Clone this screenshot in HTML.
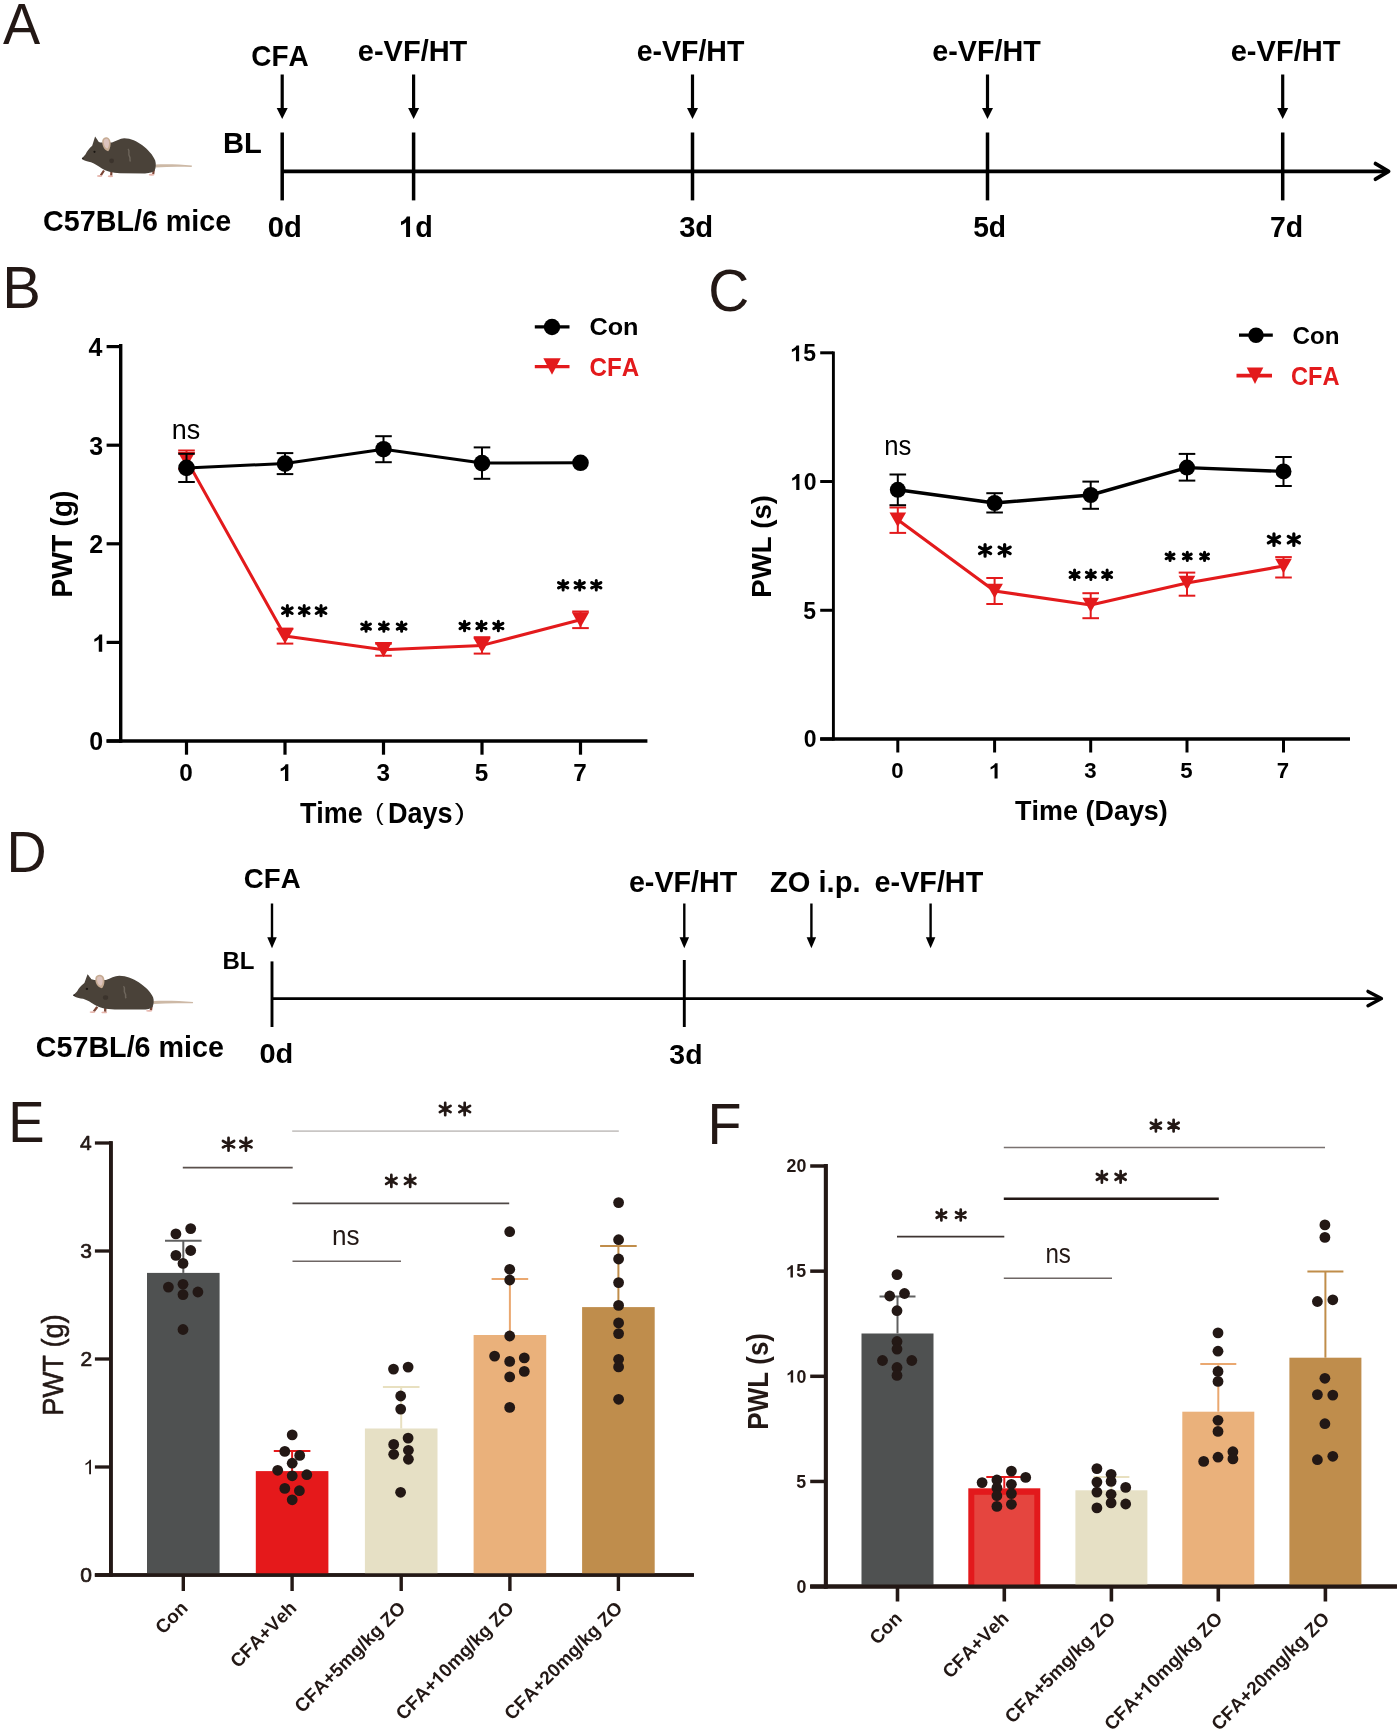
<!DOCTYPE html>
<html><head><meta charset="utf-8"><title>Figure</title>
<style>
html,body{margin:0;padding:0;background:#fff;}
svg{display:block;will-change:transform;}
text{font-family:"Liberation Sans", sans-serif; font-kerning:none;}
</style></head>
<body>
<svg width="1400" height="1730" viewBox="0 0 1400 1730">
<rect width="1400" height="1730" fill="#fff"/>
<text x="2.89" y="43.50" font-size="58.00" font-weight="normal" textLength="37.22" lengthAdjust="spacingAndGlyphs" fill="#231815">A</text>
<g>
<g>
<path d="M155.4 164.5 C168 163.9 180 164.5 191.9 165.5 L191.7 166.9 C180 166.7 168 166.5 155.4 167.5 Z" fill="#cdb9a6"/>
<path d="M104 170.5 L100.8 175.4 M111.4 171.5 L111.2 175.8 M153.8 169.5 L153.2 174.2" stroke="#7a4535" stroke-width="2.2" fill="none"/>
<ellipse cx="99.6" cy="176" rx="2.7" ry="1" fill="#e6b5ac"/>
<ellipse cx="110.4" cy="176.3" rx="2.7" ry="1" fill="#e6b5ac"/>
<ellipse cx="151.6" cy="174.7" rx="2.9" ry="1" fill="#e6b5ac"/>
<path d="M82.2 158.7 C83 156.8 84.6 155.4 85.6 154.2 C87 151.5 89 148.5 92.2 145.8 L95.1 136.6 C96.6 138.5 97.6 140.3 98.6 141.8 C100 142.4 101 142.6 102 142.6 C106 143 109 142.6 112 142.6 C116 141 120 138.4 124.2 138.2 C131 138.2 137 141.5 142 145 C148 149.5 153 155 155.2 160.5 C156.2 164 156 168 154.6 170.6 C153 172.5 150 173.2 145 173.4 L120 173.2 C112 173 106 171.5 101.5 168.3 C98 166 95 163.6 91 162.2 C88 161.6 85.5 161 84 160.2 C83 159.8 82.4 159.3 82.2 158.7 Z" fill="#4a4239"/>
<path d="M102.2 141 C102.4 138.4 104.6 137 106.6 137.2 C109.4 137.6 110.8 140.4 110.6 144 C110.4 147.2 109.6 149.8 108.2 151.2 C106.4 151 104.6 149.6 103.6 147.6 C102.6 145.6 102.1 143.2 102.2 141 Z" fill="#c6ab93"/>
<path d="M103.8 141.2 C104 139.4 105.4 138.6 106.8 138.8 C108.6 139.2 109.2 141.4 109 144 C108.8 146.2 108.2 148 107.2 148.6 C105.8 148.2 104.6 146.6 104.2 145 C103.8 143.6 103.7 142.4 103.8 141.2 Z" fill="#dcc3bd"/>
<circle cx="94.5" cy="151.8" r="1.1" fill="#1a1612"/>
<circle cx="82.8" cy="158.4" r="0.9" fill="#2a231e"/>
<circle cx="111.6" cy="160.8" r="2.4" fill="#3b332c"/>
<path d="M128 149 C130.5 151 127.5 154 129.5 156.5 C131 158.5 129 160 130.5 161.5" stroke="#6e665c" stroke-width="1.4" fill="none"/>
</g></g>
<text x="43.07" y="231.30" font-size="30.00" font-weight="bold" textLength="188.16" lengthAdjust="spacingAndGlyphs" fill="#000">C57BL/6 mice</text>
<text x="223.05" y="153.00" font-size="29.00" font-weight="bold" textLength="38.85" lengthAdjust="spacingAndGlyphs" fill="#000">BL</text>
<text x="251.25" y="66.00" font-size="30.00" font-weight="bold" textLength="57.48" lengthAdjust="spacingAndGlyphs" fill="#000">CFA</text>
<text x="357.87" y="60.70" font-size="29.50" font-weight="bold" textLength="109.44" lengthAdjust="spacingAndGlyphs" fill="#000">e-VF/HT</text>
<text x="636.69" y="60.70" font-size="29.50" font-weight="bold" textLength="107.62" lengthAdjust="spacingAndGlyphs" fill="#000">e-VF/HT</text>
<text x="932.28" y="60.70" font-size="29.50" font-weight="bold" textLength="108.53" lengthAdjust="spacingAndGlyphs" fill="#000">e-VF/HT</text>
<text x="1230.66" y="60.70" font-size="29.50" font-weight="bold" textLength="109.85" lengthAdjust="spacingAndGlyphs" fill="#000">e-VF/HT</text>
<text x="267.84" y="236.90" font-size="29.60" font-weight="bold" textLength="34.08" lengthAdjust="spacingAndGlyphs" fill="#000">0d</text>
<g><path d="M762 0L481 0L481 1018C378 926 257 857 118 813L118 1058C191 1081 271 1125 357 1189C443 1253 502 1327 534 1409L762 1409Z" fill="#000" transform="translate(399.34 236.90) scale(0.01404 -0.01445)"/><text x="415.33" y="236.90" font-size="29.60" font-weight="bold" textLength="17.56" lengthAdjust="spacingAndGlyphs" fill="#000">d</text></g>
<text x="679.13" y="236.90" font-size="29.60" font-weight="bold" textLength="34.10" lengthAdjust="spacingAndGlyphs" fill="#000">3d</text>
<text x="973.13" y="236.90" font-size="29.60" font-weight="bold" textLength="32.93" lengthAdjust="spacingAndGlyphs" fill="#000">5d</text>
<text x="1269.98" y="236.90" font-size="29.60" font-weight="bold" textLength="33.20" lengthAdjust="spacingAndGlyphs" fill="#000">7d</text>
<line x1="282.20" y1="171.40" x2="1388.00" y2="171.40" stroke="#000" stroke-width="3.8" stroke-linecap="butt"/>
<path d="M1375.5 163.6 L1388.6 171.4 L1375.5 179.2" stroke="#000" stroke-width="3.8" fill="none" stroke-linecap="round" stroke-linejoin="round"/>
<line x1="282.20" y1="132.50" x2="282.20" y2="200.40" stroke="#000" stroke-width="3.5" stroke-linecap="butt"/>
<line x1="282.20" y1="74.50" x2="282.20" y2="109.00" stroke="#000" stroke-width="3.2" stroke-linecap="butt"/>
<path d="M276.70 108.00H287.70L282.20 119.00Z" fill="#000"/>
<line x1="413.60" y1="132.50" x2="413.60" y2="200.40" stroke="#000" stroke-width="3.5" stroke-linecap="butt"/>
<line x1="413.60" y1="74.50" x2="413.60" y2="109.00" stroke="#000" stroke-width="3.2" stroke-linecap="butt"/>
<path d="M408.10 108.00H419.10L413.60 119.00Z" fill="#000"/>
<line x1="692.50" y1="132.50" x2="692.50" y2="200.40" stroke="#000" stroke-width="3.5" stroke-linecap="butt"/>
<line x1="692.50" y1="74.50" x2="692.50" y2="109.00" stroke="#000" stroke-width="3.2" stroke-linecap="butt"/>
<path d="M687.00 108.00H698.00L692.50 119.00Z" fill="#000"/>
<line x1="987.50" y1="132.50" x2="987.50" y2="200.40" stroke="#000" stroke-width="3.5" stroke-linecap="butt"/>
<line x1="987.50" y1="74.50" x2="987.50" y2="109.00" stroke="#000" stroke-width="3.2" stroke-linecap="butt"/>
<path d="M982.00 108.00H993.00L987.50 119.00Z" fill="#000"/>
<line x1="1282.70" y1="132.50" x2="1282.70" y2="200.40" stroke="#000" stroke-width="3.5" stroke-linecap="butt"/>
<line x1="1282.70" y1="74.50" x2="1282.70" y2="109.00" stroke="#000" stroke-width="3.2" stroke-linecap="butt"/>
<path d="M1277.20 108.00H1288.20L1282.70 119.00Z" fill="#000"/>
<text x="2.35" y="307.90" font-size="58.50" font-weight="normal" textLength="38.60" lengthAdjust="spacingAndGlyphs" fill="#231815">B</text>
<line x1="120.70" y1="344.00" x2="120.70" y2="742.70" stroke="#000" stroke-width="3.4" stroke-linecap="butt"/>
<line x1="106.60" y1="741.00" x2="647.40" y2="741.00" stroke="#000" stroke-width="3.4" stroke-linecap="butt"/>
<line x1="106.60" y1="741.00" x2="120.70" y2="741.00" stroke="#000" stroke-width="3.2" stroke-linecap="butt"/>
<text x="89.32" y="750.40" font-size="25.00" font-weight="bold" textLength="13.90" lengthAdjust="spacingAndGlyphs" fill="#000">0</text>
<line x1="106.60" y1="642.40" x2="120.70" y2="642.40" stroke="#000" stroke-width="3.2" stroke-linecap="butt"/>
<g><path d="M762 0L481 0L481 1018C378 926 257 857 118 813L118 1058C191 1081 271 1125 357 1189C443 1253 502 1327 534 1409L762 1409Z" fill="#000" transform="translate(92.90 651.80) scale(0.01221 -0.01221)"/></g>
<line x1="106.60" y1="543.80" x2="120.70" y2="543.80" stroke="#000" stroke-width="3.2" stroke-linecap="butt"/>
<text x="89.30" y="553.20" font-size="25.00" font-weight="bold" textLength="13.90" lengthAdjust="spacingAndGlyphs" fill="#000">2</text>
<line x1="106.60" y1="445.20" x2="120.70" y2="445.20" stroke="#000" stroke-width="3.2" stroke-linecap="butt"/>
<text x="89.20" y="454.60" font-size="25.00" font-weight="bold" textLength="13.90" lengthAdjust="spacingAndGlyphs" fill="#000">3</text>
<line x1="106.60" y1="346.60" x2="120.70" y2="346.60" stroke="#000" stroke-width="3.2" stroke-linecap="butt"/>
<text x="88.43" y="356.00" font-size="25.00" font-weight="bold" textLength="13.90" lengthAdjust="spacingAndGlyphs" fill="#000">4</text>
<line x1="186.50" y1="741.00" x2="186.50" y2="754.70" stroke="#000" stroke-width="3.2" stroke-linecap="butt"/>
<text x="179.26" y="781.00" font-size="24.30" font-weight="bold" textLength="13.51" lengthAdjust="spacingAndGlyphs" fill="#000">0</text>
<line x1="285.00" y1="741.00" x2="285.00" y2="754.70" stroke="#000" stroke-width="3.2" stroke-linecap="butt"/>
<g><path d="M762 0L481 0L481 1018C378 926 257 857 118 813L118 1058C191 1081 271 1125 357 1189C443 1253 502 1327 534 1409L762 1409Z" fill="#000" transform="translate(279.28 781.00) scale(0.01187 -0.01187)"/></g>
<line x1="383.50" y1="741.00" x2="383.50" y2="754.70" stroke="#000" stroke-width="3.2" stroke-linecap="butt"/>
<text x="376.40" y="781.00" font-size="24.30" font-weight="bold" textLength="13.51" lengthAdjust="spacingAndGlyphs" fill="#000">3</text>
<line x1="482.00" y1="741.00" x2="482.00" y2="754.70" stroke="#000" stroke-width="3.2" stroke-linecap="butt"/>
<text x="474.71" y="781.00" font-size="24.30" font-weight="bold" textLength="13.51" lengthAdjust="spacingAndGlyphs" fill="#000">5</text>
<line x1="580.50" y1="741.00" x2="580.50" y2="754.70" stroke="#000" stroke-width="3.2" stroke-linecap="butt"/>
<text x="573.25" y="781.00" font-size="24.30" font-weight="bold" textLength="13.51" lengthAdjust="spacingAndGlyphs" fill="#000">7</text>
<text x="299.90" y="823.30" font-size="28.60" font-weight="bold" textLength="62.92" lengthAdjust="spacingAndGlyphs" fill="#000">Time</text>
<text x="375.33" y="820.30" font-size="24.00" font-weight="normal" textLength="8.42" lengthAdjust="spacingAndGlyphs" fill="#000">(</text>
<text x="387.99" y="823.30" font-size="28.60" font-weight="bold" textLength="64.62" lengthAdjust="spacingAndGlyphs" fill="#000">Days</text>
<text x="454.72" y="820.30" font-size="24.00" font-weight="normal" textLength="10.17" lengthAdjust="spacingAndGlyphs" fill="#000">)</text>
<text x="-1.90" y="0.00" font-size="28.90" font-weight="bold" textLength="107.11" lengthAdjust="spacingAndGlyphs" fill="#000" transform="translate(72.3 595.8) rotate(-90)">PWT (g)</text>
<line x1="534.80" y1="326.80" x2="569.50" y2="326.80" stroke="#000" stroke-width="3.2" stroke-linecap="butt"/>
<circle cx="552.00" cy="327.00" r="8.20" fill="#000"/>
<text x="589.46" y="335.30" font-size="24.20" font-weight="bold" textLength="49.10" lengthAdjust="spacingAndGlyphs" fill="#000">Con</text>
<line x1="534.80" y1="366.60" x2="569.50" y2="366.60" stroke="#e31a1c" stroke-width="3.2" stroke-linecap="butt"/>
<path d="M543.30 358.15H560.70L552.00 374.65Z" fill="#e31a1c"/>
<text x="589.51" y="375.80" font-size="25.60" font-weight="bold" textLength="49.63" lengthAdjust="spacingAndGlyphs" fill="#e31a1c">CFA</text>
<line x1="186.50" y1="450.50" x2="186.50" y2="468.90" stroke="#e31a1c" stroke-width="2.0" stroke-linecap="butt"/>
<line x1="178.20" y1="450.50" x2="194.80" y2="450.50" stroke="#e31a1c" stroke-width="2.0" stroke-linecap="butt"/>
<line x1="178.20" y1="468.90" x2="194.80" y2="468.90" stroke="#e31a1c" stroke-width="2.0" stroke-linecap="butt"/>
<line x1="285.00" y1="628.60" x2="285.00" y2="643.60" stroke="#e31a1c" stroke-width="2.0" stroke-linecap="butt"/>
<line x1="276.70" y1="628.60" x2="293.30" y2="628.60" stroke="#e31a1c" stroke-width="2.0" stroke-linecap="butt"/>
<line x1="276.70" y1="643.60" x2="293.30" y2="643.60" stroke="#e31a1c" stroke-width="2.0" stroke-linecap="butt"/>
<line x1="383.50" y1="643.70" x2="383.50" y2="655.70" stroke="#e31a1c" stroke-width="2.0" stroke-linecap="butt"/>
<line x1="375.20" y1="643.70" x2="391.80" y2="643.70" stroke="#e31a1c" stroke-width="2.0" stroke-linecap="butt"/>
<line x1="375.20" y1="655.70" x2="391.80" y2="655.70" stroke="#e31a1c" stroke-width="2.0" stroke-linecap="butt"/>
<line x1="482.00" y1="637.20" x2="482.00" y2="653.60" stroke="#e31a1c" stroke-width="2.0" stroke-linecap="butt"/>
<line x1="473.70" y1="637.20" x2="490.30" y2="637.20" stroke="#e31a1c" stroke-width="2.0" stroke-linecap="butt"/>
<line x1="473.70" y1="653.60" x2="490.30" y2="653.60" stroke="#e31a1c" stroke-width="2.0" stroke-linecap="butt"/>
<line x1="580.50" y1="611.50" x2="580.50" y2="628.10" stroke="#e31a1c" stroke-width="2.0" stroke-linecap="butt"/>
<line x1="572.20" y1="611.50" x2="588.80" y2="611.50" stroke="#e31a1c" stroke-width="2.0" stroke-linecap="butt"/>
<line x1="572.20" y1="628.10" x2="588.80" y2="628.10" stroke="#e31a1c" stroke-width="2.0" stroke-linecap="butt"/>
<polyline points="186.5,459.7 285.0,636.1 383.5,649.7 482.0,645.4 580.5,619.8" fill="none" stroke="#e31a1c" stroke-width="3" stroke-linejoin="round"/>
<path d="M177.80 452.05H195.20L186.50 467.35Z" fill="#e31a1c"/>
<path d="M276.30 628.45H293.70L285.00 643.75Z" fill="#e31a1c"/>
<path d="M374.80 642.05H392.20L383.50 657.35Z" fill="#e31a1c"/>
<path d="M473.30 637.75H490.70L482.00 653.05Z" fill="#e31a1c"/>
<path d="M571.80 612.15H589.20L580.50 627.45Z" fill="#e31a1c"/>
<line x1="186.50" y1="453.80" x2="186.50" y2="482.00" stroke="#000" stroke-width="2.0" stroke-linecap="butt"/>
<line x1="178.20" y1="453.80" x2="194.80" y2="453.80" stroke="#000" stroke-width="2.0" stroke-linecap="butt"/>
<line x1="178.20" y1="482.00" x2="194.80" y2="482.00" stroke="#000" stroke-width="2.0" stroke-linecap="butt"/>
<line x1="285.00" y1="453.10" x2="285.00" y2="474.10" stroke="#000" stroke-width="2.0" stroke-linecap="butt"/>
<line x1="276.70" y1="453.10" x2="293.30" y2="453.10" stroke="#000" stroke-width="2.0" stroke-linecap="butt"/>
<line x1="276.70" y1="474.10" x2="293.30" y2="474.10" stroke="#000" stroke-width="2.0" stroke-linecap="butt"/>
<line x1="383.50" y1="436.20" x2="383.50" y2="462.20" stroke="#000" stroke-width="2.0" stroke-linecap="butt"/>
<line x1="375.20" y1="436.20" x2="391.80" y2="436.20" stroke="#000" stroke-width="2.0" stroke-linecap="butt"/>
<line x1="375.20" y1="462.20" x2="391.80" y2="462.20" stroke="#000" stroke-width="2.0" stroke-linecap="butt"/>
<line x1="482.00" y1="447.40" x2="482.00" y2="478.80" stroke="#000" stroke-width="2.0" stroke-linecap="butt"/>
<line x1="473.70" y1="447.40" x2="490.30" y2="447.40" stroke="#000" stroke-width="2.0" stroke-linecap="butt"/>
<line x1="473.70" y1="478.80" x2="490.30" y2="478.80" stroke="#000" stroke-width="2.0" stroke-linecap="butt"/>
<polyline points="186.5,467.9 285.0,463.6 383.5,449.2 482.0,463.1 580.5,462.8" fill="none" stroke="#000" stroke-width="3" stroke-linejoin="round"/>
<circle cx="186.50" cy="467.90" r="8.30" fill="#000"/>
<circle cx="285.00" cy="463.60" r="8.30" fill="#000"/>
<circle cx="383.50" cy="449.20" r="8.30" fill="#000"/>
<circle cx="482.00" cy="463.10" r="8.30" fill="#000"/>
<circle cx="580.50" cy="462.80" r="8.30" fill="#000"/>
<text x="171.71" y="438.50" font-size="28.30" font-weight="normal" textLength="28.46" lengthAdjust="spacingAndGlyphs" fill="#000">ns</text>
<path d="M287.36 605.60V615.80M282.50 607.90L292.22 613.50M282.50 613.50L292.22 607.90" stroke="#000" stroke-width="3" fill="none" stroke-linecap="round"/>
<path d="M304.20 605.60V615.80M299.34 607.90L309.06 613.50M299.34 613.50L309.06 607.90" stroke="#000" stroke-width="3" fill="none" stroke-linecap="round"/>
<path d="M321.04 605.60V615.80M316.18 607.90L325.90 613.50M316.18 613.50L325.90 607.90" stroke="#000" stroke-width="3" fill="none" stroke-linecap="round"/>
<path d="M366.08 622.00V631.20M361.70 624.07L370.46 629.13M361.70 629.13L370.46 624.07" stroke="#000" stroke-width="3" fill="none" stroke-linecap="round"/>
<path d="M383.85 622.00V631.20M379.47 624.07L388.23 629.13M379.47 629.13L388.23 624.07" stroke="#000" stroke-width="3" fill="none" stroke-linecap="round"/>
<path d="M401.62 622.00V631.20M397.24 624.07L406.00 629.13M397.24 629.13L406.00 624.07" stroke="#000" stroke-width="3" fill="none" stroke-linecap="round"/>
<path d="M464.57 621.20V630.80M460.00 623.36L469.15 628.64M460.00 628.64L469.15 623.36" stroke="#000" stroke-width="3" fill="none" stroke-linecap="round"/>
<path d="M481.45 621.20V630.80M476.88 623.36L486.02 628.64M476.88 628.64L486.02 623.36" stroke="#000" stroke-width="3" fill="none" stroke-linecap="round"/>
<path d="M498.33 621.20V630.80M493.75 623.36L502.90 628.64M493.75 628.64L502.90 623.36" stroke="#000" stroke-width="3" fill="none" stroke-linecap="round"/>
<path d="M563.12 580.40V590.10M558.50 582.58L567.74 587.92M558.50 587.92L567.74 582.58" stroke="#000" stroke-width="3" fill="none" stroke-linecap="round"/>
<path d="M579.70 580.40V590.10M575.08 582.58L584.32 587.92M575.08 587.92L584.32 582.58" stroke="#000" stroke-width="3" fill="none" stroke-linecap="round"/>
<path d="M596.28 580.40V590.10M591.66 582.58L600.90 587.92M591.66 587.92L600.90 582.58" stroke="#000" stroke-width="3" fill="none" stroke-linecap="round"/>
<text x="708.21" y="311.40" font-size="59.50" font-weight="normal" textLength="41.05" lengthAdjust="spacingAndGlyphs" fill="#231815">C</text>
<line x1="833.40" y1="351.40" x2="833.40" y2="740.50" stroke="#000" stroke-width="2.9" stroke-linecap="butt"/>
<line x1="820.20" y1="739.00" x2="1350.00" y2="739.00" stroke="#000" stroke-width="3.5" stroke-linecap="butt"/>
<line x1="820.20" y1="739.00" x2="833.40" y2="739.00" stroke="#000" stroke-width="3.0" stroke-linecap="butt"/>
<text x="803.65" y="747.40" font-size="23.00" font-weight="bold" textLength="12.79" lengthAdjust="spacingAndGlyphs" fill="#000">0</text>
<line x1="820.20" y1="610.27" x2="833.40" y2="610.27" stroke="#000" stroke-width="3.0" stroke-linecap="butt"/>
<text x="803.35" y="618.67" font-size="23.00" font-weight="bold" textLength="12.79" lengthAdjust="spacingAndGlyphs" fill="#000">5</text>
<line x1="820.20" y1="481.53" x2="833.40" y2="481.53" stroke="#000" stroke-width="3.0" stroke-linecap="butt"/>
<g><path d="M762 0L481 0L481 1018C378 926 257 857 118 813L118 1058C191 1081 271 1125 357 1189C443 1253 502 1327 534 1409L762 1409Z" fill="#000" transform="translate(790.86 489.93) scale(0.01123 -0.01123)"/><text x="803.65" y="489.93" font-size="23.00" font-weight="bold" textLength="12.79" lengthAdjust="spacingAndGlyphs" fill="#000">0</text></g>
<line x1="820.20" y1="352.80" x2="833.40" y2="352.80" stroke="#000" stroke-width="3.0" stroke-linecap="butt"/>
<g><path d="M762 0L481 0L481 1018C378 926 257 857 118 813L118 1058C191 1081 271 1125 357 1189C443 1253 502 1327 534 1409L762 1409Z" fill="#000" transform="translate(790.56 361.20) scale(0.01123 -0.01123)"/><text x="803.35" y="361.20" font-size="23.00" font-weight="bold" textLength="12.79" lengthAdjust="spacingAndGlyphs" fill="#000">5</text></g>
<line x1="897.80" y1="739.00" x2="897.80" y2="752.50" stroke="#000" stroke-width="3.0" stroke-linecap="butt"/>
<text x="891.14" y="778.40" font-size="22.20" font-weight="bold" textLength="12.35" lengthAdjust="spacingAndGlyphs" fill="#000">0</text>
<line x1="994.60" y1="739.00" x2="994.60" y2="752.50" stroke="#000" stroke-width="3.0" stroke-linecap="butt"/>
<g><path d="M762 0L481 0L481 1018C378 926 257 857 118 813L118 1058C191 1081 271 1125 357 1189C443 1253 502 1327 534 1409L762 1409Z" fill="#000" transform="translate(989.33 778.40) scale(0.01084 -0.01084)"/></g>
<line x1="1090.70" y1="739.00" x2="1090.70" y2="752.50" stroke="#000" stroke-width="3.0" stroke-linecap="butt"/>
<text x="1084.17" y="778.40" font-size="22.20" font-weight="bold" textLength="12.35" lengthAdjust="spacingAndGlyphs" fill="#000">3</text>
<line x1="1187.00" y1="739.00" x2="1187.00" y2="752.50" stroke="#000" stroke-width="3.0" stroke-linecap="butt"/>
<text x="1180.29" y="778.40" font-size="22.20" font-weight="bold" textLength="12.35" lengthAdjust="spacingAndGlyphs" fill="#000">5</text>
<line x1="1283.50" y1="739.00" x2="1283.50" y2="752.50" stroke="#000" stroke-width="3.0" stroke-linecap="butt"/>
<text x="1276.84" y="778.40" font-size="22.20" font-weight="bold" textLength="12.35" lengthAdjust="spacingAndGlyphs" fill="#000">7</text>
<text x="1015.10" y="819.60" font-size="28.00" font-weight="bold" textLength="152.74" lengthAdjust="spacingAndGlyphs" fill="#000">Time (Days)</text>
<text x="-1.84" y="0.00" font-size="28.20" font-weight="bold" textLength="102.62" lengthAdjust="spacingAndGlyphs" fill="#000" transform="translate(771.2 595.8) rotate(-90)">PWL (s)</text>
<line x1="1239.00" y1="335.20" x2="1272.80" y2="335.20" stroke="#000" stroke-width="3.2" stroke-linecap="butt"/>
<circle cx="1256.00" cy="335.20" r="7.80" fill="#000"/>
<text x="1292.51" y="344.00" font-size="24.20" font-weight="bold" textLength="46.99" lengthAdjust="spacingAndGlyphs" fill="#000">Con</text>
<line x1="1236.50" y1="375.60" x2="1272.00" y2="375.60" stroke="#e31a1c" stroke-width="3.6" stroke-linecap="butt"/>
<path d="M1246.70 367.45H1263.30L1255.00 383.95Z" fill="#e31a1c"/>
<text x="1291.03" y="384.50" font-size="25.40" font-weight="bold" textLength="48.59" lengthAdjust="spacingAndGlyphs" fill="#e31a1c">CFA</text>
<line x1="897.80" y1="507.50" x2="897.80" y2="532.90" stroke="#e31a1c" stroke-width="2.0" stroke-linecap="butt"/>
<line x1="889.50" y1="507.50" x2="906.10" y2="507.50" stroke="#e31a1c" stroke-width="2.0" stroke-linecap="butt"/>
<line x1="889.50" y1="532.90" x2="906.10" y2="532.90" stroke="#e31a1c" stroke-width="2.0" stroke-linecap="butt"/>
<line x1="994.60" y1="578.00" x2="994.60" y2="604.00" stroke="#e31a1c" stroke-width="2.0" stroke-linecap="butt"/>
<line x1="986.30" y1="578.00" x2="1002.90" y2="578.00" stroke="#e31a1c" stroke-width="2.0" stroke-linecap="butt"/>
<line x1="986.30" y1="604.00" x2="1002.90" y2="604.00" stroke="#e31a1c" stroke-width="2.0" stroke-linecap="butt"/>
<line x1="1090.70" y1="593.20" x2="1090.70" y2="618.20" stroke="#e31a1c" stroke-width="2.0" stroke-linecap="butt"/>
<line x1="1082.40" y1="593.20" x2="1099.00" y2="593.20" stroke="#e31a1c" stroke-width="2.0" stroke-linecap="butt"/>
<line x1="1082.40" y1="618.20" x2="1099.00" y2="618.20" stroke="#e31a1c" stroke-width="2.0" stroke-linecap="butt"/>
<line x1="1187.00" y1="572.60" x2="1187.00" y2="595.70" stroke="#e31a1c" stroke-width="2.0" stroke-linecap="butt"/>
<line x1="1178.70" y1="572.60" x2="1195.30" y2="572.60" stroke="#e31a1c" stroke-width="2.0" stroke-linecap="butt"/>
<line x1="1178.70" y1="595.70" x2="1195.30" y2="595.70" stroke="#e31a1c" stroke-width="2.0" stroke-linecap="butt"/>
<line x1="1283.50" y1="557.10" x2="1283.50" y2="577.50" stroke="#e31a1c" stroke-width="2.0" stroke-linecap="butt"/>
<line x1="1275.20" y1="557.10" x2="1291.80" y2="557.10" stroke="#e31a1c" stroke-width="2.0" stroke-linecap="butt"/>
<line x1="1275.20" y1="577.50" x2="1291.80" y2="577.50" stroke="#e31a1c" stroke-width="2.0" stroke-linecap="butt"/>
<polyline points="897.8,519.7 994.6,591.0 1090.7,605.0 1187.0,583.0 1283.5,566.0" fill="none" stroke="#e31a1c" stroke-width="3.2" stroke-linejoin="round"/>
<path d="M889.50 512.40H906.10L897.80 527.00Z" fill="#e31a1c"/>
<path d="M986.30 583.70H1002.90L994.60 598.30Z" fill="#e31a1c"/>
<path d="M1082.40 597.70H1099.00L1090.70 612.30Z" fill="#e31a1c"/>
<path d="M1178.70 575.70H1195.30L1187.00 590.30Z" fill="#e31a1c"/>
<path d="M1275.20 558.70H1291.80L1283.50 573.30Z" fill="#e31a1c"/>
<line x1="897.80" y1="474.50" x2="897.80" y2="505.20" stroke="#000" stroke-width="2.0" stroke-linecap="butt"/>
<line x1="889.50" y1="474.50" x2="906.10" y2="474.50" stroke="#000" stroke-width="2.0" stroke-linecap="butt"/>
<line x1="889.50" y1="505.20" x2="906.10" y2="505.20" stroke="#000" stroke-width="2.0" stroke-linecap="butt"/>
<line x1="994.60" y1="493.20" x2="994.60" y2="512.50" stroke="#000" stroke-width="2.0" stroke-linecap="butt"/>
<line x1="986.30" y1="493.20" x2="1002.90" y2="493.20" stroke="#000" stroke-width="2.0" stroke-linecap="butt"/>
<line x1="986.30" y1="512.50" x2="1002.90" y2="512.50" stroke="#000" stroke-width="2.0" stroke-linecap="butt"/>
<line x1="1090.70" y1="481.60" x2="1090.70" y2="508.80" stroke="#000" stroke-width="2.0" stroke-linecap="butt"/>
<line x1="1082.40" y1="481.60" x2="1099.00" y2="481.60" stroke="#000" stroke-width="2.0" stroke-linecap="butt"/>
<line x1="1082.40" y1="508.80" x2="1099.00" y2="508.80" stroke="#000" stroke-width="2.0" stroke-linecap="butt"/>
<line x1="1187.00" y1="453.90" x2="1187.00" y2="480.60" stroke="#000" stroke-width="2.0" stroke-linecap="butt"/>
<line x1="1178.70" y1="453.90" x2="1195.30" y2="453.90" stroke="#000" stroke-width="2.0" stroke-linecap="butt"/>
<line x1="1178.70" y1="480.60" x2="1195.30" y2="480.60" stroke="#000" stroke-width="2.0" stroke-linecap="butt"/>
<line x1="1283.50" y1="457.00" x2="1283.50" y2="486.00" stroke="#000" stroke-width="2.0" stroke-linecap="butt"/>
<line x1="1275.20" y1="457.00" x2="1291.80" y2="457.00" stroke="#000" stroke-width="2.0" stroke-linecap="butt"/>
<line x1="1275.20" y1="486.00" x2="1291.80" y2="486.00" stroke="#000" stroke-width="2.0" stroke-linecap="butt"/>
<polyline points="897.8,489.8 994.6,503.0 1090.7,495.0 1187.0,467.6 1283.5,471.4" fill="none" stroke="#000" stroke-width="3.4" stroke-linejoin="round"/>
<circle cx="897.80" cy="489.80" r="8.00" fill="#000"/>
<circle cx="994.60" cy="503.00" r="8.00" fill="#000"/>
<circle cx="1090.70" cy="495.00" r="8.00" fill="#000"/>
<circle cx="1187.00" cy="467.60" r="8.00" fill="#000"/>
<circle cx="1283.50" cy="471.40" r="8.00" fill="#000"/>
<text x="884.19" y="454.50" font-size="27.50" font-weight="normal" textLength="27.13" lengthAdjust="spacingAndGlyphs" fill="#000">ns</text>
<path d="M985.07 544.50V556.20M979.50 547.13L990.65 553.57M979.50 553.57L990.65 547.13" stroke="#000" stroke-width="3.2" fill="none" stroke-linecap="round"/>
<path d="M1004.63 544.50V556.20M999.05 547.13L1010.20 553.57M999.05 553.57L1010.20 547.13" stroke="#000" stroke-width="3.2" fill="none" stroke-linecap="round"/>
<path d="M1074.58 570.10V579.50M1070.10 572.21L1079.05 577.38M1070.10 577.38L1079.05 572.21" stroke="#000" stroke-width="3" fill="none" stroke-linecap="round"/>
<path d="M1090.85 570.10V579.50M1086.37 572.21L1095.33 577.38M1086.37 577.38L1095.33 572.21" stroke="#000" stroke-width="3" fill="none" stroke-linecap="round"/>
<path d="M1107.12 570.10V579.50M1102.65 572.21L1111.60 577.38M1102.65 577.38L1111.60 572.21" stroke="#000" stroke-width="3" fill="none" stroke-linecap="round"/>
<path d="M1170.05 552.30V560.60M1166.10 554.17L1174.01 558.73M1166.10 558.73L1174.01 554.17" stroke="#000" stroke-width="3" fill="none" stroke-linecap="round"/>
<path d="M1187.30 552.30V560.60M1183.35 554.17L1191.25 558.73M1183.35 558.73L1191.25 554.17" stroke="#000" stroke-width="3" fill="none" stroke-linecap="round"/>
<path d="M1204.55 552.30V560.60M1200.59 554.17L1208.50 558.73M1200.59 558.73L1208.50 554.17" stroke="#000" stroke-width="3" fill="none" stroke-linecap="round"/>
<path d="M1273.97 533.80V545.50M1268.40 536.43L1279.55 542.87M1268.40 542.87L1279.55 536.43" stroke="#000" stroke-width="3.2" fill="none" stroke-linecap="round"/>
<path d="M1293.83 533.80V545.50M1288.25 536.43L1299.40 542.87M1288.25 542.87L1299.40 536.43" stroke="#000" stroke-width="3.2" fill="none" stroke-linecap="round"/>
<text x="6.44" y="872.30" font-size="57.00" font-weight="normal" textLength="40.11" lengthAdjust="spacingAndGlyphs" fill="#231815">D</text>
<g transform="translate(73.5 995.5) scale(1.09 0.96) translate(-82.2 -158.7)">
<g>
<path d="M155.4 164.5 C168 163.9 180 164.5 191.9 165.5 L191.7 166.9 C180 166.7 168 166.5 155.4 167.5 Z" fill="#cdb9a6"/>
<path d="M104 170.5 L100.8 175.4 M111.4 171.5 L111.2 175.8 M153.8 169.5 L153.2 174.2" stroke="#7a4535" stroke-width="2.2" fill="none"/>
<ellipse cx="99.6" cy="176" rx="2.7" ry="1" fill="#e6b5ac"/>
<ellipse cx="110.4" cy="176.3" rx="2.7" ry="1" fill="#e6b5ac"/>
<ellipse cx="151.6" cy="174.7" rx="2.9" ry="1" fill="#e6b5ac"/>
<path d="M82.2 158.7 C83 156.8 84.6 155.4 85.6 154.2 C87 151.5 89 148.5 92.2 145.8 L95.1 136.6 C96.6 138.5 97.6 140.3 98.6 141.8 C100 142.4 101 142.6 102 142.6 C106 143 109 142.6 112 142.6 C116 141 120 138.4 124.2 138.2 C131 138.2 137 141.5 142 145 C148 149.5 153 155 155.2 160.5 C156.2 164 156 168 154.6 170.6 C153 172.5 150 173.2 145 173.4 L120 173.2 C112 173 106 171.5 101.5 168.3 C98 166 95 163.6 91 162.2 C88 161.6 85.5 161 84 160.2 C83 159.8 82.4 159.3 82.2 158.7 Z" fill="#4a4239"/>
<path d="M102.2 141 C102.4 138.4 104.6 137 106.6 137.2 C109.4 137.6 110.8 140.4 110.6 144 C110.4 147.2 109.6 149.8 108.2 151.2 C106.4 151 104.6 149.6 103.6 147.6 C102.6 145.6 102.1 143.2 102.2 141 Z" fill="#c6ab93"/>
<path d="M103.8 141.2 C104 139.4 105.4 138.6 106.8 138.8 C108.6 139.2 109.2 141.4 109 144 C108.8 146.2 108.2 148 107.2 148.6 C105.8 148.2 104.6 146.6 104.2 145 C103.8 143.6 103.7 142.4 103.8 141.2 Z" fill="#dcc3bd"/>
<circle cx="94.5" cy="151.8" r="1.1" fill="#1a1612"/>
<circle cx="82.8" cy="158.4" r="0.9" fill="#2a231e"/>
<circle cx="111.6" cy="160.8" r="2.4" fill="#3b332c"/>
<path d="M128 149 C130.5 151 127.5 154 129.5 156.5 C131 158.5 129 160 130.5 161.5" stroke="#6e665c" stroke-width="1.4" fill="none"/>
</g></g>
<text x="35.82" y="1057.40" font-size="29.50" font-weight="bold" textLength="188.06" lengthAdjust="spacingAndGlyphs" fill="#000">C57BL/6 mice</text>
<text x="222.39" y="969.40" font-size="24.50" font-weight="bold" textLength="32.05" lengthAdjust="spacingAndGlyphs" fill="#000">BL</text>
<text x="243.87" y="888.30" font-size="28.20" font-weight="bold" textLength="56.76" lengthAdjust="spacingAndGlyphs" fill="#000">CFA</text>
<text x="628.88" y="891.60" font-size="29.00" font-weight="bold" textLength="108.43" lengthAdjust="spacingAndGlyphs" fill="#000">e-VF/HT</text>
<text x="770.03" y="891.60" font-size="29.00" font-weight="bold" textLength="90.57" lengthAdjust="spacingAndGlyphs" fill="#000">ZO i.p.</text>
<text x="874.58" y="891.80" font-size="29.00" font-weight="bold" textLength="108.63" lengthAdjust="spacingAndGlyphs" fill="#000">e-VF/HT</text>
<text x="259.45" y="1063.10" font-size="27.50" font-weight="bold" textLength="33.86" lengthAdjust="spacingAndGlyphs" fill="#000">0d</text>
<text x="669.35" y="1063.50" font-size="27.50" font-weight="bold" textLength="33.12" lengthAdjust="spacingAndGlyphs" fill="#000">3d</text>
<line x1="272.00" y1="998.60" x2="1381.00" y2="998.60" stroke="#000" stroke-width="2.9" stroke-linecap="butt"/>
<path d="M1368 991.4 L1381.4 998.6 L1368 1005.8" stroke="#000" stroke-width="3.4" fill="none" stroke-linecap="round" stroke-linejoin="round"/>
<line x1="272.00" y1="961.40" x2="272.00" y2="1027.00" stroke="#000" stroke-width="2.9" stroke-linecap="butt"/>
<line x1="684.30" y1="960.00" x2="684.30" y2="1027.00" stroke="#000" stroke-width="2.9" stroke-linecap="butt"/>
<line x1="272.00" y1="903.50" x2="272.00" y2="938.30" stroke="#000" stroke-width="2.4" stroke-linecap="butt"/>
<path d="M267.25 937.30H276.75L272.00 948.30Z" fill="#000"/>
<line x1="684.30" y1="903.50" x2="684.30" y2="938.30" stroke="#000" stroke-width="2.4" stroke-linecap="butt"/>
<path d="M679.55 937.30H689.05L684.30 948.30Z" fill="#000"/>
<line x1="811.40" y1="903.50" x2="811.40" y2="938.30" stroke="#000" stroke-width="2.4" stroke-linecap="butt"/>
<path d="M806.65 937.30H816.15L811.40 948.30Z" fill="#000"/>
<line x1="930.60" y1="903.50" x2="930.60" y2="938.30" stroke="#000" stroke-width="2.4" stroke-linecap="butt"/>
<path d="M925.85 937.30H935.35L930.60 948.30Z" fill="#000"/>
<text x="8.14" y="1142.10" font-size="58.00" font-weight="normal" textLength="36.30" lengthAdjust="spacingAndGlyphs" fill="#231815">E</text>
<line x1="110.90" y1="1141.30" x2="110.90" y2="1576.80" stroke="#231815" stroke-width="3.6" stroke-linecap="butt"/>
<line x1="94.90" y1="1575.00" x2="693.90" y2="1575.00" stroke="#231815" stroke-width="3.4" stroke-linecap="butt"/>
<line x1="94.90" y1="1575.00" x2="110.90" y2="1575.00" stroke="#231815" stroke-width="3.3" stroke-linecap="butt"/>
<g stroke="#231815" stroke-width="0.7" stroke-linejoin="round">
<text x="80.14" y="1582.30" font-size="21.00" font-weight="normal" textLength="11.68" lengthAdjust="spacingAndGlyphs" fill="#231815">0</text>
</g>
<line x1="94.90" y1="1467.00" x2="110.90" y2="1467.00" stroke="#231815" stroke-width="3.3" stroke-linecap="butt"/>
<g stroke="#231815" stroke-width="0.7" stroke-linejoin="round">
<g><path d="M763 0L583 0L583 1102Q518 1043 412 983Q307 924 223 894L223 1061Q374 1129 487 1226Q600 1323 647 1409L763 1409Z" fill="#231815" transform="translate(83.18 1474.30) scale(0.01025 -0.01025)"/></g>
</g>
<line x1="94.90" y1="1359.00" x2="110.90" y2="1359.00" stroke="#231815" stroke-width="3.3" stroke-linecap="butt"/>
<g stroke="#231815" stroke-width="0.7" stroke-linejoin="round">
<text x="80.38" y="1366.30" font-size="21.00" font-weight="normal" textLength="11.68" lengthAdjust="spacingAndGlyphs" fill="#231815">2</text>
</g>
<line x1="94.90" y1="1251.00" x2="110.90" y2="1251.00" stroke="#231815" stroke-width="3.3" stroke-linecap="butt"/>
<g stroke="#231815" stroke-width="0.7" stroke-linejoin="round">
<text x="80.24" y="1258.30" font-size="21.00" font-weight="normal" textLength="11.68" lengthAdjust="spacingAndGlyphs" fill="#231815">3</text>
</g>
<line x1="94.90" y1="1143.00" x2="110.90" y2="1143.00" stroke="#231815" stroke-width="3.3" stroke-linecap="butt"/>
<g stroke="#231815" stroke-width="0.7" stroke-linejoin="round">
<text x="79.94" y="1150.30" font-size="21.00" font-weight="normal" textLength="11.68" lengthAdjust="spacingAndGlyphs" fill="#231815">4</text>
</g>
<rect x="147.00" y="1272.90" width="72.60" height="302.10" fill="#4f5151"/>
<rect x="255.80" y="1471.10" width="72.60" height="103.90" fill="#e5191b"/>
<rect x="364.90" y="1428.50" width="72.60" height="146.50" fill="#e6e0c5"/>
<rect x="473.60" y="1335.00" width="72.60" height="240.00" fill="#eab17b"/>
<rect x="582.10" y="1307.10" width="72.60" height="267.90" fill="#bf8d4c"/>
<line x1="183.30" y1="1240.70" x2="183.30" y2="1272.90" stroke="#606060" stroke-width="2.0" stroke-linecap="butt"/>
<line x1="165.00" y1="1240.70" x2="201.60" y2="1240.70" stroke="#606060" stroke-width="2.0" stroke-linecap="butt"/>
<line x1="292.10" y1="1451.10" x2="292.10" y2="1471.10" stroke="#e5191b" stroke-width="2.0" stroke-linecap="butt"/>
<line x1="273.80" y1="1451.10" x2="310.40" y2="1451.10" stroke="#e5191b" stroke-width="2.0" stroke-linecap="butt"/>
<line x1="401.20" y1="1386.90" x2="401.20" y2="1428.50" stroke="#e8e0c0" stroke-width="2.0" stroke-linecap="butt"/>
<line x1="382.90" y1="1386.90" x2="419.50" y2="1386.90" stroke="#e8e0c0" stroke-width="2.0" stroke-linecap="butt"/>
<line x1="509.90" y1="1279.00" x2="509.90" y2="1335.00" stroke="#eaa870" stroke-width="2.0" stroke-linecap="butt"/>
<line x1="491.60" y1="1279.00" x2="528.20" y2="1279.00" stroke="#eaa870" stroke-width="2.0" stroke-linecap="butt"/>
<line x1="618.40" y1="1246.00" x2="618.40" y2="1307.10" stroke="#c08d4a" stroke-width="2.0" stroke-linecap="butt"/>
<line x1="600.10" y1="1246.00" x2="636.70" y2="1246.00" stroke="#c08d4a" stroke-width="2.0" stroke-linecap="butt"/>
<line x1="94.90" y1="1575.00" x2="693.90" y2="1575.00" stroke="#231815" stroke-width="3.4" stroke-linecap="butt"/>
<line x1="110.90" y1="1141.30" x2="110.90" y2="1576.80" stroke="#231815" stroke-width="3.6" stroke-linecap="butt"/>
<line x1="183.30" y1="1575.00" x2="183.30" y2="1591.00" stroke="#231815" stroke-width="3.4" stroke-linecap="butt"/>
<line x1="292.10" y1="1575.00" x2="292.10" y2="1591.00" stroke="#231815" stroke-width="3.4" stroke-linecap="butt"/>
<line x1="401.20" y1="1575.00" x2="401.20" y2="1591.00" stroke="#231815" stroke-width="3.4" stroke-linecap="butt"/>
<line x1="509.90" y1="1575.00" x2="509.90" y2="1591.00" stroke="#231815" stroke-width="3.4" stroke-linecap="butt"/>
<line x1="618.40" y1="1575.00" x2="618.40" y2="1591.00" stroke="#231815" stroke-width="3.4" stroke-linecap="butt"/>
<circle cx="175.90" cy="1233.90" r="5.40" fill="#231815"/>
<circle cx="190.70" cy="1228.60" r="5.40" fill="#231815"/>
<circle cx="175.90" cy="1255.40" r="5.40" fill="#231815"/>
<circle cx="190.70" cy="1250.50" r="5.40" fill="#231815"/>
<circle cx="183.00" cy="1263.40" r="5.40" fill="#231815"/>
<circle cx="168.40" cy="1287.10" r="5.40" fill="#231815"/>
<circle cx="183.00" cy="1284.30" r="5.40" fill="#231815"/>
<circle cx="183.00" cy="1294.60" r="5.40" fill="#231815"/>
<circle cx="197.90" cy="1292.00" r="5.40" fill="#231815"/>
<circle cx="183.00" cy="1329.50" r="5.40" fill="#231815"/>
<circle cx="292.20" cy="1434.90" r="5.40" fill="#231815"/>
<circle cx="284.80" cy="1451.40" r="5.40" fill="#231815"/>
<circle cx="299.70" cy="1455.40" r="5.40" fill="#231815"/>
<circle cx="292.20" cy="1463.20" r="5.40" fill="#231815"/>
<circle cx="277.70" cy="1470.30" r="5.40" fill="#231815"/>
<circle cx="292.20" cy="1475.80" r="5.40" fill="#231815"/>
<circle cx="306.80" cy="1474.70" r="5.40" fill="#231815"/>
<circle cx="284.80" cy="1488.40" r="5.40" fill="#231815"/>
<circle cx="299.40" cy="1490.70" r="5.40" fill="#231815"/>
<circle cx="292.20" cy="1499.80" r="5.40" fill="#231815"/>
<circle cx="393.50" cy="1369.10" r="5.40" fill="#231815"/>
<circle cx="408.10" cy="1367.10" r="5.40" fill="#231815"/>
<circle cx="400.70" cy="1396.00" r="5.40" fill="#231815"/>
<circle cx="400.70" cy="1409.10" r="5.40" fill="#231815"/>
<circle cx="408.10" cy="1438.10" r="5.40" fill="#231815"/>
<circle cx="393.70" cy="1444.40" r="5.40" fill="#231815"/>
<circle cx="408.40" cy="1450.30" r="5.40" fill="#231815"/>
<circle cx="393.70" cy="1454.30" r="5.40" fill="#231815"/>
<circle cx="408.40" cy="1459.30" r="5.40" fill="#231815"/>
<circle cx="400.60" cy="1492.30" r="5.40" fill="#231815"/>
<circle cx="509.70" cy="1231.70" r="5.40" fill="#231815"/>
<circle cx="509.70" cy="1269.30" r="5.40" fill="#231815"/>
<circle cx="509.70" cy="1280.00" r="5.40" fill="#231815"/>
<circle cx="509.70" cy="1336.00" r="5.40" fill="#231815"/>
<circle cx="494.60" cy="1356.10" r="5.40" fill="#231815"/>
<circle cx="509.70" cy="1361.40" r="5.40" fill="#231815"/>
<circle cx="524.30" cy="1357.90" r="5.40" fill="#231815"/>
<circle cx="524.30" cy="1371.40" r="5.40" fill="#231815"/>
<circle cx="509.70" cy="1376.90" r="5.40" fill="#231815"/>
<circle cx="509.70" cy="1407.40" r="5.40" fill="#231815"/>
<circle cx="618.60" cy="1202.60" r="5.40" fill="#231815"/>
<circle cx="618.60" cy="1239.70" r="5.40" fill="#231815"/>
<circle cx="618.60" cy="1259.00" r="5.40" fill="#231815"/>
<circle cx="618.60" cy="1282.60" r="5.40" fill="#231815"/>
<circle cx="618.60" cy="1305.40" r="5.40" fill="#231815"/>
<circle cx="618.60" cy="1322.90" r="5.40" fill="#231815"/>
<circle cx="618.60" cy="1333.60" r="5.40" fill="#231815"/>
<circle cx="618.60" cy="1359.30" r="5.40" fill="#231815"/>
<circle cx="618.60" cy="1366.90" r="5.40" fill="#231815"/>
<circle cx="618.60" cy="1399.30" r="5.40" fill="#231815"/>
<line x1="182.80" y1="1167.60" x2="292.70" y2="1167.60" stroke="#5a504c" stroke-width="1.7" stroke-linecap="butt"/>
<line x1="292.20" y1="1131.10" x2="618.80" y2="1131.10" stroke="#c9c6c4" stroke-width="1.7" stroke-linecap="butt"/>
<line x1="292.50" y1="1203.40" x2="509.20" y2="1203.40" stroke="#4f4846" stroke-width="1.7" stroke-linecap="butt"/>
<line x1="292.50" y1="1261.20" x2="401.00" y2="1261.20" stroke="#6e6664" stroke-width="1.6" stroke-linecap="butt"/>
<path d="M228.54 1137.75V1150.65M222.95 1140.98L234.12 1147.42M222.95 1147.42L234.12 1140.98" stroke="#231815" stroke-width="2.7" fill="none" stroke-linecap="round"/>
<path d="M245.96 1137.75V1150.65M240.38 1140.98L251.55 1147.42M240.38 1147.42L251.55 1140.98" stroke="#231815" stroke-width="2.7" fill="none" stroke-linecap="round"/>
<path d="M445.22 1102.75V1115.15M439.85 1105.85L450.59 1112.05M439.85 1112.05L450.59 1105.85" stroke="#231815" stroke-width="2.7" fill="none" stroke-linecap="round"/>
<path d="M464.68 1102.75V1115.15M459.31 1105.85L470.05 1112.05M459.31 1112.05L470.05 1105.85" stroke="#231815" stroke-width="2.7" fill="none" stroke-linecap="round"/>
<path d="M391.35 1174.95V1186.95M386.15 1177.95L396.54 1183.95M386.15 1183.95L396.54 1177.95" stroke="#231815" stroke-width="2.7" fill="none" stroke-linecap="round"/>
<path d="M410.15 1174.95V1186.95M404.96 1177.95L415.35 1183.95M404.96 1183.95L415.35 1177.95" stroke="#231815" stroke-width="2.7" fill="none" stroke-linecap="round"/>
<text x="332.07" y="1245.10" font-size="28.30" font-weight="normal" textLength="27.58" lengthAdjust="spacingAndGlyphs" fill="#231815">ns</text>
<g stroke="#231815" stroke-width="0.6" stroke-linejoin="round">
<text x="-2.24" y="0.00" font-size="30.00" font-weight="normal" textLength="101.43" lengthAdjust="spacingAndGlyphs" fill="#231815" transform="translate(62.9 1413.5) rotate(-90)">PWT (g)</text>
</g>
<text x="-35.57" y="0.00" font-size="18.90" font-weight="bold" textLength="36.74" lengthAdjust="spacingAndGlyphs" fill="#231815" transform="translate(188.10 1609.90) rotate(-45)">Con</text>
<text x="-83.37" y="0.00" font-size="18.90" font-weight="bold" textLength="84.54" lengthAdjust="spacingAndGlyphs" fill="#231815" transform="translate(296.90 1609.90) rotate(-45)">CFA+Veh</text>
<text x="-146.75" y="0.00" font-size="18.90" font-weight="bold" textLength="147.55" lengthAdjust="spacingAndGlyphs" fill="#231815" transform="translate(406.00 1609.90) rotate(-45)">CFA+5mg/kg ZO</text>
<g transform="translate(514.70 1609.90) rotate(-45)"><text x="-157.26" y="0.00" font-size="18.90" font-weight="bold" textLength="49.88" lengthAdjust="spacingAndGlyphs" fill="#231815">CFA+</text><path d="M762 0L481 0L481 1018C378 926 257 857 118 813L118 1058C191 1081 271 1125 357 1189C443 1253 502 1327 534 1409L762 1409Z" fill="#231815" transform="translate(-107.38 0.00) scale(0.00923 -0.00923)"/><text x="-96.87" y="0.00" font-size="18.90" font-weight="bold" textLength="97.67" lengthAdjust="spacingAndGlyphs" fill="#231815">0mg/kg ZO</text></g>
<text x="-157.26" y="0.00" font-size="18.90" font-weight="bold" textLength="158.06" lengthAdjust="spacingAndGlyphs" fill="#231815" transform="translate(623.20 1609.90) rotate(-45)">CFA+20mg/kg ZO</text>
<text x="707.53" y="1144.30" font-size="58.00" font-weight="normal" textLength="33.99" lengthAdjust="spacingAndGlyphs" fill="#231815">F</text>
<line x1="825.80" y1="1164.00" x2="825.80" y2="1588.60" stroke="#231815" stroke-width="3.8" stroke-linecap="butt"/>
<line x1="810.20" y1="1586.60" x2="1396.90" y2="1586.60" stroke="#231815" stroke-width="4.0" stroke-linecap="butt"/>
<line x1="810.20" y1="1586.60" x2="825.80" y2="1586.60" stroke="#231815" stroke-width="3.5" stroke-linecap="butt"/>
<text x="796.43" y="1592.90" font-size="17.80" font-weight="bold" textLength="9.90" lengthAdjust="spacingAndGlyphs" fill="#231815">0</text>
<line x1="810.20" y1="1481.45" x2="825.80" y2="1481.45" stroke="#231815" stroke-width="3.5" stroke-linecap="butt"/>
<text x="796.20" y="1487.75" font-size="17.80" font-weight="bold" textLength="9.90" lengthAdjust="spacingAndGlyphs" fill="#231815">5</text>
<line x1="810.20" y1="1376.30" x2="825.80" y2="1376.30" stroke="#231815" stroke-width="3.5" stroke-linecap="butt"/>
<g><path d="M762 0L481 0L481 1018C378 926 257 857 118 813L118 1058C191 1081 271 1125 357 1189C443 1253 502 1327 534 1409L762 1409Z" fill="#231815" transform="translate(786.53 1382.60) scale(0.00869 -0.00869)"/><text x="796.43" y="1382.60" font-size="17.80" font-weight="bold" textLength="9.90" lengthAdjust="spacingAndGlyphs" fill="#231815">0</text></g>
<line x1="810.20" y1="1271.15" x2="825.80" y2="1271.15" stroke="#231815" stroke-width="3.5" stroke-linecap="butt"/>
<g><path d="M762 0L481 0L481 1018C378 926 257 857 118 813L118 1058C191 1081 271 1125 357 1189C443 1253 502 1327 534 1409L762 1409Z" fill="#231815" transform="translate(786.30 1277.45) scale(0.00869 -0.00869)"/><text x="796.20" y="1277.45" font-size="17.80" font-weight="bold" textLength="9.90" lengthAdjust="spacingAndGlyphs" fill="#231815">5</text></g>
<line x1="810.20" y1="1166.00" x2="825.80" y2="1166.00" stroke="#231815" stroke-width="3.5" stroke-linecap="butt"/>
<text x="786.53" y="1172.30" font-size="17.80" font-weight="bold" textLength="19.80" lengthAdjust="spacingAndGlyphs" fill="#231815">20</text>
<rect x="861.50" y="1333.50" width="72.00" height="253.10" fill="#4f5151"/>
<rect x="968.30" y="1488.30" width="72.00" height="98.30" fill="#e3191c"/>
<rect x="974.30" y="1494.80" width="60.00" height="91.80" fill="#e5453f"/>
<rect x="1075.40" y="1490.30" width="72.00" height="96.30" fill="#e6e0c5"/>
<rect x="1182.30" y="1411.70" width="72.00" height="174.90" fill="#eab17b"/>
<rect x="1289.40" y="1357.70" width="72.00" height="228.90" fill="#bf8d4c"/>
<line x1="897.50" y1="1296.40" x2="897.50" y2="1333.50" stroke="#606060" stroke-width="2.0" stroke-linecap="butt"/>
<line x1="879.50" y1="1296.40" x2="915.50" y2="1296.40" stroke="#606060" stroke-width="2.0" stroke-linecap="butt"/>
<line x1="1004.30" y1="1477.10" x2="1004.30" y2="1488.30" stroke="#e5191b" stroke-width="2.0" stroke-linecap="butt"/>
<line x1="986.30" y1="1477.10" x2="1022.30" y2="1477.10" stroke="#e5191b" stroke-width="2.0" stroke-linecap="butt"/>
<line x1="1111.40" y1="1476.90" x2="1111.40" y2="1490.30" stroke="#e8e0c0" stroke-width="2.0" stroke-linecap="butt"/>
<line x1="1093.40" y1="1476.90" x2="1129.40" y2="1476.90" stroke="#e8e0c0" stroke-width="2.0" stroke-linecap="butt"/>
<line x1="1218.30" y1="1364.00" x2="1218.30" y2="1411.70" stroke="#eaa870" stroke-width="2.0" stroke-linecap="butt"/>
<line x1="1200.30" y1="1364.00" x2="1236.30" y2="1364.00" stroke="#eaa870" stroke-width="2.0" stroke-linecap="butt"/>
<line x1="1325.40" y1="1271.50" x2="1325.40" y2="1357.70" stroke="#c08d4a" stroke-width="2.0" stroke-linecap="butt"/>
<line x1="1307.40" y1="1271.50" x2="1343.40" y2="1271.50" stroke="#c08d4a" stroke-width="2.0" stroke-linecap="butt"/>
<line x1="810.20" y1="1586.60" x2="1396.90" y2="1586.60" stroke="#231815" stroke-width="4.0" stroke-linecap="butt"/>
<line x1="825.80" y1="1164.00" x2="825.80" y2="1588.60" stroke="#231815" stroke-width="3.8" stroke-linecap="butt"/>
<line x1="897.50" y1="1586.60" x2="897.50" y2="1601.50" stroke="#231815" stroke-width="3.6" stroke-linecap="butt"/>
<line x1="1004.30" y1="1586.60" x2="1004.30" y2="1601.50" stroke="#231815" stroke-width="3.6" stroke-linecap="butt"/>
<line x1="1111.40" y1="1586.60" x2="1111.40" y2="1601.50" stroke="#231815" stroke-width="3.6" stroke-linecap="butt"/>
<line x1="1218.30" y1="1586.60" x2="1218.30" y2="1601.50" stroke="#231815" stroke-width="3.6" stroke-linecap="butt"/>
<line x1="1325.40" y1="1586.60" x2="1325.40" y2="1601.50" stroke="#231815" stroke-width="3.6" stroke-linecap="butt"/>
<circle cx="897.00" cy="1274.60" r="5.40" fill="#231815"/>
<circle cx="889.70" cy="1296.00" r="5.40" fill="#231815"/>
<circle cx="904.50" cy="1293.50" r="5.40" fill="#231815"/>
<circle cx="897.00" cy="1310.70" r="5.40" fill="#231815"/>
<circle cx="897.00" cy="1341.50" r="5.40" fill="#231815"/>
<circle cx="897.00" cy="1349.10" r="5.40" fill="#231815"/>
<circle cx="882.50" cy="1360.50" r="5.40" fill="#231815"/>
<circle cx="911.80" cy="1360.50" r="5.40" fill="#231815"/>
<circle cx="897.00" cy="1367.50" r="5.40" fill="#231815"/>
<circle cx="897.00" cy="1375.40" r="5.40" fill="#231815"/>
<circle cx="982.10" cy="1482.60" r="5.40" fill="#231815"/>
<circle cx="996.90" cy="1480.00" r="5.40" fill="#231815"/>
<circle cx="1011.40" cy="1471.10" r="5.40" fill="#231815"/>
<circle cx="1025.70" cy="1477.40" r="5.40" fill="#231815"/>
<circle cx="996.90" cy="1487.90" r="5.40" fill="#231815"/>
<circle cx="1011.40" cy="1484.30" r="5.40" fill="#231815"/>
<circle cx="996.90" cy="1495.70" r="5.40" fill="#231815"/>
<circle cx="1011.40" cy="1493.60" r="5.40" fill="#231815"/>
<circle cx="996.90" cy="1506.40" r="5.40" fill="#231815"/>
<circle cx="1011.40" cy="1504.30" r="5.40" fill="#231815"/>
<circle cx="1096.90" cy="1468.60" r="5.40" fill="#231815"/>
<circle cx="1096.90" cy="1482.10" r="5.40" fill="#231815"/>
<circle cx="1096.90" cy="1492.10" r="5.40" fill="#231815"/>
<circle cx="1096.90" cy="1507.90" r="5.40" fill="#231815"/>
<circle cx="1111.10" cy="1474.30" r="5.40" fill="#231815"/>
<circle cx="1111.10" cy="1481.40" r="5.40" fill="#231815"/>
<circle cx="1111.10" cy="1494.30" r="5.40" fill="#231815"/>
<circle cx="1111.10" cy="1502.90" r="5.40" fill="#231815"/>
<circle cx="1125.70" cy="1487.40" r="5.40" fill="#231815"/>
<circle cx="1125.70" cy="1504.00" r="5.40" fill="#231815"/>
<circle cx="1218.00" cy="1332.90" r="5.40" fill="#231815"/>
<circle cx="1218.00" cy="1351.20" r="5.40" fill="#231815"/>
<circle cx="1218.00" cy="1371.40" r="5.40" fill="#231815"/>
<circle cx="1218.00" cy="1381.40" r="5.40" fill="#231815"/>
<circle cx="1218.00" cy="1420.30" r="5.40" fill="#231815"/>
<circle cx="1218.00" cy="1431.40" r="5.40" fill="#231815"/>
<circle cx="1203.70" cy="1461.40" r="5.40" fill="#231815"/>
<circle cx="1218.00" cy="1457.20" r="5.40" fill="#231815"/>
<circle cx="1232.90" cy="1451.70" r="5.40" fill="#231815"/>
<circle cx="1232.90" cy="1458.90" r="5.40" fill="#231815"/>
<circle cx="1324.90" cy="1224.90" r="5.40" fill="#231815"/>
<circle cx="1324.90" cy="1237.40" r="5.40" fill="#231815"/>
<circle cx="1317.40" cy="1301.50" r="5.40" fill="#231815"/>
<circle cx="1332.80" cy="1299.80" r="5.40" fill="#231815"/>
<circle cx="1324.90" cy="1378.30" r="5.40" fill="#231815"/>
<circle cx="1317.40" cy="1394.60" r="5.40" fill="#231815"/>
<circle cx="1332.80" cy="1395.10" r="5.40" fill="#231815"/>
<circle cx="1324.90" cy="1423.70" r="5.40" fill="#231815"/>
<circle cx="1317.40" cy="1459.70" r="5.40" fill="#231815"/>
<circle cx="1332.80" cy="1456.30" r="5.40" fill="#231815"/>
<line x1="897.00" y1="1236.70" x2="1004.30" y2="1236.70" stroke="#3e3532" stroke-width="1.8" stroke-linecap="butt"/>
<line x1="1003.80" y1="1198.80" x2="1218.80" y2="1198.80" stroke="#231815" stroke-width="2.6" stroke-linecap="butt"/>
<line x1="1003.80" y1="1147.50" x2="1325.00" y2="1147.50" stroke="#7a7270" stroke-width="1.5" stroke-linecap="butt"/>
<line x1="1003.80" y1="1278.20" x2="1112.00" y2="1278.20" stroke="#6e6664" stroke-width="1.5" stroke-linecap="butt"/>
<path d="M941.37 1209.55V1220.45M936.65 1212.28L946.09 1217.72M936.65 1217.72L946.09 1212.28" stroke="#231815" stroke-width="2.7" fill="none" stroke-linecap="round"/>
<path d="M960.73 1209.55V1220.45M956.01 1212.28L965.45 1217.72M956.01 1217.72L965.45 1212.28" stroke="#231815" stroke-width="2.7" fill="none" stroke-linecap="round"/>
<path d="M1101.89 1171.05V1182.70M1096.85 1173.96L1106.94 1179.79M1096.85 1179.79L1106.94 1173.96" stroke="#231815" stroke-width="2.7" fill="none" stroke-linecap="round"/>
<path d="M1120.61 1171.05V1182.70M1115.56 1173.96L1125.65 1179.79M1115.56 1179.79L1125.65 1173.96" stroke="#231815" stroke-width="2.7" fill="none" stroke-linecap="round"/>
<path d="M1155.89 1119.80V1131.45M1150.85 1122.71L1160.94 1128.54M1150.85 1128.54L1160.94 1122.71" stroke="#231815" stroke-width="2.7" fill="none" stroke-linecap="round"/>
<path d="M1173.61 1119.80V1131.45M1168.56 1122.71L1178.65 1128.54M1168.56 1128.54L1178.65 1122.71" stroke="#231815" stroke-width="2.7" fill="none" stroke-linecap="round"/>
<text x="1045.40" y="1263.40" font-size="28.00" font-weight="normal" textLength="25.47" lengthAdjust="spacingAndGlyphs" fill="#231815">ns</text>
<text x="-1.74" y="0.00" font-size="29.00" font-weight="bold" textLength="96.63" lengthAdjust="spacingAndGlyphs" fill="#231815" transform="translate(768.2 1427.9) rotate(-90)">PWL (s)</text>
<text x="-35.57" y="0.00" font-size="18.90" font-weight="bold" textLength="36.74" lengthAdjust="spacingAndGlyphs" fill="#231815" transform="translate(902.30 1620.40) rotate(-45)">Con</text>
<text x="-83.37" y="0.00" font-size="18.90" font-weight="bold" textLength="84.54" lengthAdjust="spacingAndGlyphs" fill="#231815" transform="translate(1009.10 1620.40) rotate(-45)">CFA+Veh</text>
<text x="-146.75" y="0.00" font-size="18.90" font-weight="bold" textLength="147.55" lengthAdjust="spacingAndGlyphs" fill="#231815" transform="translate(1116.20 1620.40) rotate(-45)">CFA+5mg/kg ZO</text>
<g transform="translate(1223.10 1620.40) rotate(-45)"><text x="-157.26" y="0.00" font-size="18.90" font-weight="bold" textLength="49.88" lengthAdjust="spacingAndGlyphs" fill="#231815">CFA+</text><path d="M762 0L481 0L481 1018C378 926 257 857 118 813L118 1058C191 1081 271 1125 357 1189C443 1253 502 1327 534 1409L762 1409Z" fill="#231815" transform="translate(-107.38 0.00) scale(0.00923 -0.00923)"/><text x="-96.87" y="0.00" font-size="18.90" font-weight="bold" textLength="97.67" lengthAdjust="spacingAndGlyphs" fill="#231815">0mg/kg ZO</text></g>
<text x="-157.26" y="0.00" font-size="18.90" font-weight="bold" textLength="158.06" lengthAdjust="spacingAndGlyphs" fill="#231815" transform="translate(1330.20 1620.40) rotate(-45)">CFA+20mg/kg ZO</text>
</svg>
</body></html>
